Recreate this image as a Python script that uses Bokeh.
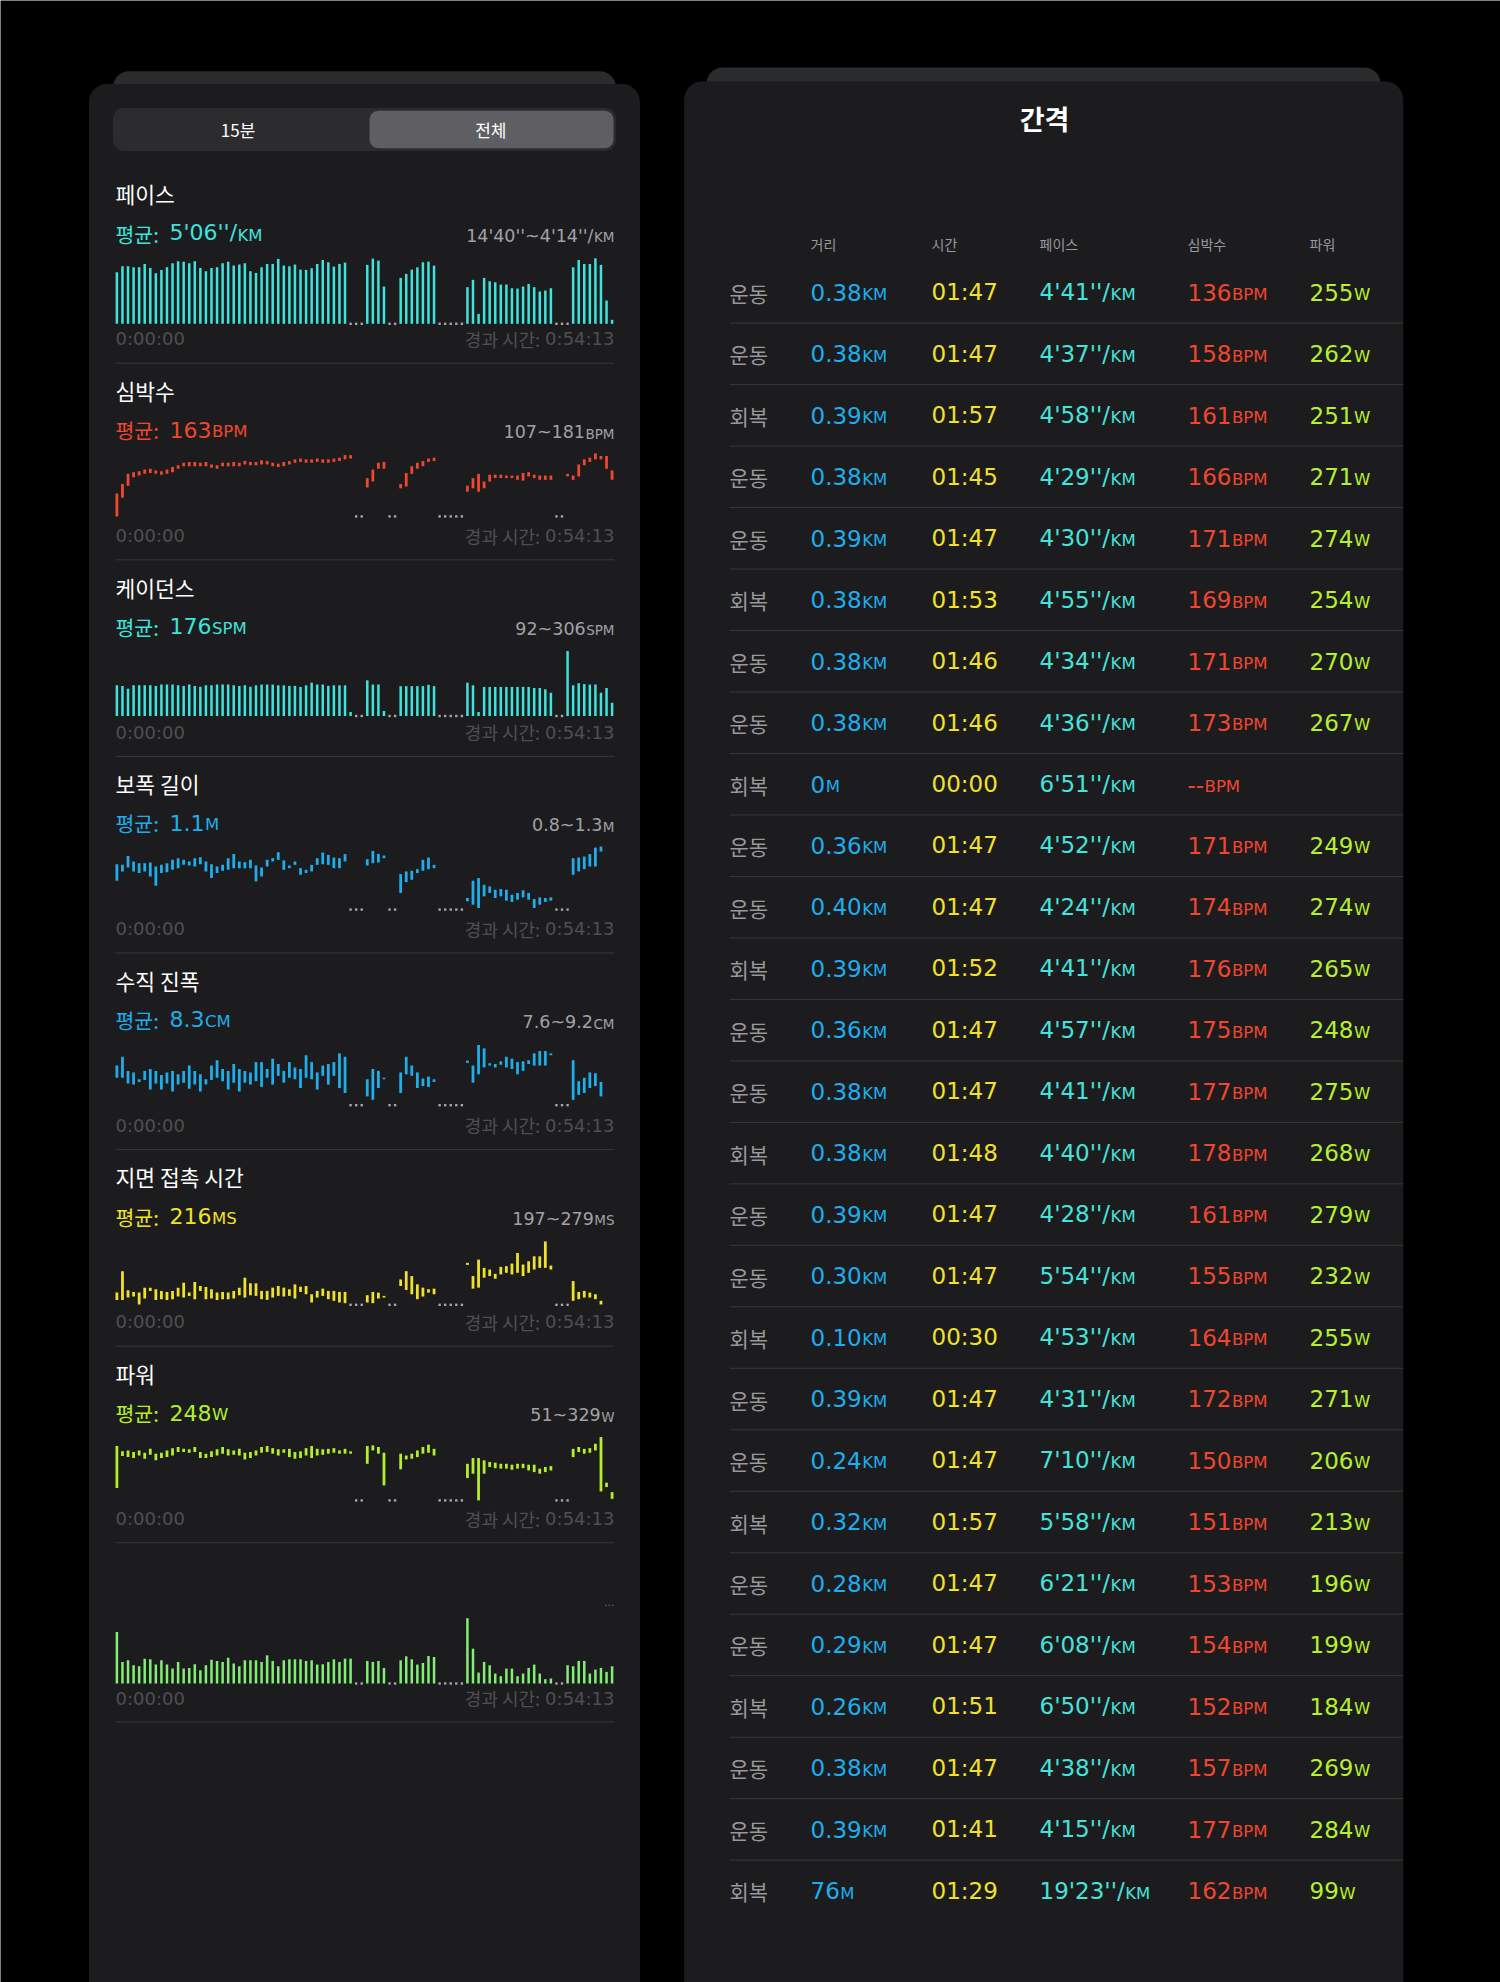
import numpy as np
from bokeh.plotting import figure
from bokeh.models import Range1d, BoxAnnotation, ColumnDataSource
from bokeh.core.properties import value
from bokeh.embed import file_html
from bokeh.resources import INLINE

# ======================= DATA =======================
N_SLOTS = 90
slots = list(range(N_SLOTS))

# pace per slot, seconds per km (range 14'40''=880 .. 4'14''=254)
pace_range_sec = (880, 254)
pace_sec = [387, 330, 330, 340, 340, 308, 346, 397, 365, 340,
            302, 282, 286, 302, 282, 346, 378, 346, 340, 302,
            286, 324, 314, 302, 378, 394, 340, 308, 308, 260,
            324, 330, 314, 362, 365, 349, 308, 270, 292, 333,
            308, 295, None, None, None, 317, 257, 276, 524, None,
            None, 441, 403, 362, 340, 292, 286, 324, None, None,
            None, None, None, 530, 460, 785, 441, 473, 483, 505,
            505, 540, 543, 524, 499, 530, 572, 562, 540, None,
            None, None, 340, 270, 308, 308, 254, 317, 658, 842]
pace_gaps = [42, 43, 44, 49, 50, 58, 59, 60, 61, 62, 79, 80, 81]

hr_range = (107, 181)
hr_low = [107, 129, 143, 153, 155, 157, 158, 157, 156, 157,
          159, 163, 166, 166, 166, 166, 166, 164, 163, 166,
          166, 166, 166, 168, 167, 167, 168, 168, 166, 165,
          166, 168, 170, 171, 170, 170, 171, 170, 170, 171,
          172, 174, 175, None, None, 141, 148, 163, 163, None,
          None, 140, 142, 157, 163, 166, 171, 172, None, None,
          None, None, None, 136, 140, 136, 140, 148, 152, 152,
          152, 152, 150, 149, 154, 152, 150, 150, 150, None,
          None, 154, 150, 154, 167, 171, 174, 174, 163, 150]
hr_high = [134, 145, 157, 159, 160, 162, 163, 161, 160, 162,
           165, 167, 170, 171, 171, 170, 171, 168, 167, 170,
           170, 171, 170, 172, 171, 171, 173, 172, 170, 169,
           171, 172, 174, 175, 174, 174, 175, 174, 174, 175,
           176, 179, 179, None, None, 152, 162, 170, 171, None,
           None, 145, 158, 166, 170, 172, 175, 176, None, None,
           None, None, None, 143, 152, 157, 148, 156, 156, 156,
           155, 155, 155, 158, 159, 156, 155, 155, 155, None,
           None, 157, 155, 168, 174, 176, 181, 178, 178, 161]
hr_gaps = [43, 44, 49, 50, 58, 59, 60, 61, 62, 79, 80]

cadence_range = (60, 306)
cadence_spm = [176, 174, 163, 176, 176, 176, 176, 174, 179, 179,
               179, 176, 174, 179, 174, 171, 176, 176, 179, 179,
               179, 176, 174, 176, 171, 176, 179, 179, 179, 176,
               176, 174, 174, 170, 176, 186, 179, 179, 174, 176,
               176, 176, 75, None, None, 195, 179, 179, 79, None,
               None, 173, 173, 173, 173, 173, 178, 173, None, None,
               None, None, None, 186, 176, 75, 170, 170, 170, 170,
               170, 170, 170, 170, 170, 166, 166, 161, 148, None,
               None, 306, 176, 184, 181, 179, 179, 148, 166, 110]
cadence_gaps = [43, 44, 49, 50, 58, 59, 60, 61, 62, 79, 80]

stride_range = (0.8, 1.3)
stride_low = [1.029, 1.103, 1.134, 1.103, 1.090, 1.103, 1.063, 0.990, 1.090, 1.097,
              1.116, 1.129, 1.155, 1.150, 1.142, 1.160, 1.103, 1.050, 1.090, 1.108,
              1.116, 1.129, 1.129, 1.129, 1.129, 1.024, 1.063, 1.142, 1.182, 1.195,
              1.116, 1.129, 1.155, 1.076, 1.090, 1.103, 1.155, 1.160, 1.155, 1.129,
              1.129, 1.182, None, None, None, 1.150, 1.168, 1.174, 1.208, None,
              None, 0.932, 1.018, 1.037, 1.090, 1.108, 1.121, 1.129, None, None,
              None, None, None, 0.866, 0.839, 0.813, 0.905, 0.932, 0.892, 0.905,
              0.871, 0.861, 0.879, 0.897, 0.879, 0.813, 0.839, 0.861, 0.871, None,
              None, None, 1.076, 1.103, 1.121, 1.142, 1.142, 1.261, None, None]
stride_high = [1.160, 1.155, 1.226, 1.182, 1.168, 1.168, 1.174, 1.142, 1.155, 1.168,
               1.195, 1.208, 1.195, 1.182, 1.208, 1.216, 1.182, 1.160, 1.142, 1.155,
               1.208, 1.242, 1.182, 1.176, 1.195, 1.150, 1.134, 1.195, 1.208, 1.255,
               1.190, 1.150, 1.182, 1.129, 1.116, 1.155, 1.208, 1.253, 1.234, 1.213,
               1.208, 1.240, None, None, None, 1.200, 1.266, 1.242, 1.229, None,
               None, 1.082, 1.103, 1.108, 1.121, 1.195, 1.213, 1.155, None, None,
               None, None, None, 0.892, 1.029, 1.050, 0.997, 0.984, 0.958, 0.963,
               0.958, 0.918, 0.932, 0.953, 0.932, 0.884, 0.897, 0.892, 0.897, None,
               None, None, 1.208, 1.213, 1.221, 1.240, 1.292, 1.300, None, None]
stride_gaps = [42, 43, 44, 49, 50, 58, 59, 60, 61, 62, 79, 80, 81]

vo_range = (7.6, 9.2)
vo_low = [8.32, 8.32, 8.17, 8.14, 8.21, 8.26, 8.01, 8.17, 8.01, 8.17,
          7.96, 8.14, 8.19, 8.03, 8.14, 7.96, 8.14, 8.26, 8.32, 8.23,
          8.01, 8.19, 7.96, 8.19, 8.14, 8.23, 8.08, 8.32, 8.14, 8.37,
          8.19, 8.32, 8.28, 8.05, 8.32, 8.28, 8.01, 8.37, 8.14, 8.37,
          8.05, 7.92, None, None, None, 7.83, 7.74, 8.05, 8.28, None,
          None, 7.92, 8.41, 8.37, 8.05, 8.10, 8.08, 8.21, None, None,
          None, None, None, 8.71, 8.19, 8.41, 8.59, 8.64, 8.59, 8.66,
          8.59, 8.55, 8.41, 8.50, 8.68, 8.64, 8.64, 8.64, 8.91, None,
          None, None, 7.74, 7.87, 7.92, 8.05, 8.10, 7.83, None, None]
vo_high = [8.64, 8.87, 8.50, 8.46, 8.28, 8.50, 8.55, 8.50, 8.39, 8.46,
           8.50, 8.41, 8.50, 8.64, 8.50, 8.41, 8.28, 8.64, 8.78, 8.55,
           8.50, 8.68, 8.55, 8.50, 8.46, 8.73, 8.73, 8.55, 8.82, 8.68,
           8.50, 8.73, 8.59, 8.55, 8.91, 8.73, 8.46, 8.64, 8.68, 8.73,
           8.96, 8.87, None, None, None, 8.28, 8.55, 8.50, 8.32, None,
           None, 8.46, 8.87, 8.64, 8.46, 8.30, 8.35, 8.28, None, None,
           None, None, None, 8.77, 8.64, 9.18, 9.09, 8.70, 8.68, 8.75,
           8.87, 8.82, 8.73, 8.75, 8.78, 8.96, 9.02, 9.02, 8.96, None,
           None, None, 8.78, 8.23, 8.32, 8.46, 8.44, 8.21, None, None]
vo_gaps = [42, 43, 44, 49, 50, 58, 59, 60, 61, 62, 79, 80, 81]

gct_range = (197, 279)
gct_low = [203.3, 203.3, 206.3, 207.6, 197.4, 205.0, 214.8, 203.3, 204.2, 203.3,
           204.2, 207.6, 206.3, 208.4, 204.2, 214.8, 204.2, 205.0, 203.3, 204.2,
           204.2, 205.0, 209.3, 206.3, 209.3, 208.4, 204.2, 203.3, 206.3, 208.4,
           207.6, 208.4, 205.0, 213.5, 210.5, 200.0, 206.3, 208.4, 204.2, 202.1,
           200.0, 199.1, None, None, None, 200.0, 199.1, 205.0, 206.3, None,
           None, 221.1, 216.0, 210.5, 204.2, 207.6, 212.6, 210.5, None, None,
           None, None, None, 248.1, 217.7, 219.0, 231.7, 233.8, 230.4, 235.9,
           238.0, 235.9, 238.0, 233.8, 238.0, 242.2, 244.3, 244.3, 242.2, None,
           None, None, 202.1, 204.2, 206.3, 206.3, 204.2, 197.4, None, None]
gct_high = [212.6, 240.1, 215.6, 213.5, 212.6, 219.0, 219.0, 216.9, 214.8, 213.5,
            214.8, 219.0, 225.3, 212.6, 226.2, 221.1, 219.8, 216.9, 212.6, 213.5,
            212.6, 214.8, 219.0, 231.7, 224.5, 224.5, 214.8, 214.8, 219.0, 221.1,
            219.0, 216.9, 223.2, 220.2, 221.1, 210.5, 214.8, 217.7, 214.8, 214.8,
            213.5, 213.5, None, None, None, 209.3, 213.5, 212.6, 208.4, None,
            None, 229.5, 240.1, 233.8, 223.2, 219.0, 216.9, 217.7, None, None,
            None, None, None, 250.7, 233.8, 254.9, 244.3, 242.2, 236.7, 245.6,
            246.5, 249.8, 263.4, 248.6, 252.8, 259.1, 259.1, 278.2, 247.3, None,
            None, None, 227.4, 213.5, 214.8, 212.6, 210.5, 202.1, None, None]
gct_gaps = [42, 43, 44, 49, 50, 58, 59, 60, 61, 62, 79, 80, 81]

power_range = (51, 329)
power_low = [105, 244, 239, 235, 246, 232, 249, 225, 235, 239,
             246, 261, 261, 258, 261, 235, 235, 239, 246, 254,
             246, 249, 246, 229, 235, 246, 258, 261, 254, 246,
             258, 239, 232, 235, 246, 235, 246, 249, 254, 258,
             254, 254, 254, None, None, 210, 268, 254, 116, None,
             None, 186, 229, 232, 239, 254, 258, 246, None, None,
             None, None, None, 148, 167, 51, 167, 196, 191, 189,
             189, 184, 189, 191, 181, 174, 167, 174, 181, None,
             None, None, 239, 261, 254, 258, 268, 90, 109, 58]
power_high = [287, 264, 268, 261, 268, 258, 275, 254, 258, 268,
              278, 283, 275, 273, 283, 261, 254, 264, 273, 283,
              273, 268, 275, 258, 261, 268, 283, 287, 278, 273,
              273, 275, 261, 264, 278, 287, 275, 273, 275, 278,
              268, 275, 264, None, None, 287, 290, 283, 258, None,
              None, 254, 246, 254, 268, 283, 293, 275, None, None,
              None, None, None, 210, 235, 235, 225, 218, 215, 210,
              210, 206, 210, 210, 206, 206, 189, 196, 200, None,
              None, None, 275, 283, 275, 278, 297, 326, 128, 87]
power_gaps = [43, 44, 49, 50, 58, 59, 60, 61, 62, 79, 80, 81]

extra_range = (0, 200)
extra_vals = [155, 65, 70, 55, 52, 75, 73, 57, 70, 57,
              45, 65, 45, 47, 58, 40, 55, 72, 68, 65,
              78, 60, 52, 70, 70, 70, 65, 85, 68, 52,
              70, 73, 73, 73, 68, 70, 57, 58, 65, 73,
              65, 75, 75, None, None, 68, 65, 68, 47, None,
              None, 70, 82, 73, 57, 62, 83, 80, None, None,
              None, None, None, 197, 105, 33, 65, 55, 30, 22,
              45, 45, 22, 30, 47, 57, 30, 13, 15, None,
              None, 55, 52, 68, 68, 30, 42, 47, 35, 52]
extra_gaps = [43, 44, 49, 50, 58, 59, 60, 61, 62, 79, 80]

section_titles = ["페이스", "심박수", "케이던스", "보폭 길이", "수직 진폭", "지면 접촉 시간", "파워"]
avg_values = ["5'06''/", "163", "176", "1.1", "8.3", "216", "248"]
metric_units = ["KM", "BPM", "SPM", "M", "CM", "MS", "W"]
range_values = ["14'40''~4'14''/", "107~181", "92~306", "0.8~1.3", "7.6~9.2", "197~279", "51~329"]
time_start = "0:00:00"
time_end = "0:54:13"
segment_labels = ["15분", "전체"]

table_title = "간격"
table_headers = ["거리", "시간", "페이스", "심박수", "파워"]
interval_kinds = ["운동", "운동", "회복", "운동", "운동", "회복", "운동", "운동", "회복",
                  "운동", "운동", "회복", "운동", "운동", "회복", "운동", "운동", "회복",
                  "운동", "운동", "회복", "운동", "운동", "회복", "운동", "운동", "회복"]
interval_dist = ["0.38", "0.38", "0.39", "0.38", "0.39", "0.38", "0.38", "0.38", "0",
                 "0.36", "0.40", "0.39", "0.36", "0.38", "0.38", "0.39", "0.30", "0.10",
                 "0.39", "0.24", "0.32", "0.28", "0.29", "0.26", "0.38", "0.39", "76"]
interval_dist_units = ["KM"] * 8 + ["M"] + ["KM"] * 17 + ["M"]
interval_times = ["01:47", "01:47", "01:57", "01:45", "01:47", "01:53", "01:46", "01:46", "00:00",
                  "01:47", "01:47", "01:52", "01:47", "01:47", "01:48", "01:47", "01:47", "00:30",
                  "01:47", "01:47", "01:57", "01:47", "01:47", "01:51", "01:47", "01:41", "01:29"]
interval_paces = ["4'41''", "4'37''", "4'58''", "4'29''", "4'30''", "4'55''", "4'34''", "4'36''", "6'51''",
                  "4'52''", "4'24''", "4'41''", "4'57''", "4'41''", "4'40''", "4'28''", "5'54''", "4'53''",
                  "4'31''", "7'10''", "5'58''", "6'21''", "6'08''", "6'50''", "4'38''", "4'15''", "19'23''"]
interval_hr = ["136", "158", "161", "166", "171", "169", "171", "173", "--",
               "171", "174", "176", "175", "177", "178", "161", "155", "164",
               "172", "150", "151", "153", "154", "152", "157", "177", "162"]
interval_power = ["255", "262", "251", "271", "274", "254", "270", "267", "",
                  "249", "274", "265", "248", "275", "268", "279", "232", "255",
                  "271", "206", "213", "196", "199", "184", "269", "284", "99"]

# ======================= STYLE / LAYOUT =======================
W, H = 1500, 1982
KR = "Noto Sans CJK KR"
NUM = "DejaVu Sans"
BG = "#000000"
PANEL = "#1c1c1e"
STRIP = "#2a2b2d"
SEP = "#38383a"
GRAY = "#98989d"
DIM = "#4f4f53"
C_PACE = "#3ee3dc"
C_HR = "#f0472f"
C_BLUE = "#1faeea"
C_YEL = "#f0e22a"
C_LIME = "#b4ee2c"
C_GREEN = "#82ee74"
metric_colors = [C_PACE, C_HR, C_PACE, C_BLUE, C_BLUE, C_YEL, C_LIME]
BASE_K = 0.38   # renderer places alphabetic baselines ~0.38em low; compensate

DJ = {'.': 0.3179, ':': 0.3369, "'": 0.2749, '/': 0.3369, '-': 0.3608, '~': 0.8379, ' ': 0.3179,
      'K': 0.6558, 'M': 0.8628, 'B': 0.686, 'P': 0.6001, 'S': 0.6348, 'C': 0.6982, 'W': 0.9888}


def tw(s, size):
    return sum(0.6362 if c.isdigit() else DJ.get(c, 0.62) for c in s) * size


p = figure(width=W, height=H, x_range=Range1d(0, W), y_range=Range1d(H, 0),
           x_axis_type=None, y_axis_type=None, output_backend="svg", toolbar_location=None,
           min_border=0, background_fill_color=BG, border_fill_color=BG, outline_line_color=None)
p.xgrid.visible = False
p.ygrid.visible = False


def box(l, r, t, b, color, radius):
    p.add_layout(BoxAnnotation(left=l, right=r, top=t, bottom=b, fill_color=color, fill_alpha=1,
                               line_color=None, border_radius=radius, level="underlay"))


def txt(xs, ys, texts, font, size, color, align="left", baseline="alphabetic", style="normal"):
    if baseline == "alphabetic":
        ys = [y - BASE_K * size for y in ys]
    p.text(x=xs, y=ys, text=texts, text_font=value(font), text_font_size=value(f"{size}px"),
           text_color=color, text_align=align, text_baseline=baseline, text_font_style=style)


# panels
box(112.5, 615.4, 70.8, 300, STRIP, 16)
box(88.5, 639.5, 83.4, 2100, PANEL, 18)
box(706, 1380, 67, 300, STRIP, 16)
box(683.7, 1402.7, 80.9, 2100, PANEL, 18)

# segmented control
box(112.5, 615.4, 107.4, 150.4, "#2c2c2f", 11)
box(369, 613, 110.2, 147.8, "#5f5f63", 9)
txt([237.6, 490.3], [129, 129], segment_labels, KR, 17, "#ffffff", align="center", baseline="middle")

# ---------------- left charts ----------------
LX0, LX1 = 115, 614
SLOT0, SLOT_STEP = 116.4, 5.564
xs_start = -SLOT0 / SLOT_STEP
p.extra_x_ranges = {"slots": Range1d(xs_start, xs_start + W / SLOT_STEP)}

T = [193.3 + i * 196.6 for i in range(7)]


def yrange(v_bottom, y_bottom, v_top, y_top):
    span = (v_top - v_bottom) * H / (y_bottom - y_top)
    start = v_bottom - span * (H - y_bottom) / H
    return Range1d(start, start + span)


def arr(lst):
    return np.array([np.nan if v is None else float(v) for v in lst])


charts = [
    dict(name="pace", kind="bar", vals=pace_sec, gaps=pace_gaps, vb=pace_range_sec[0], vt=pace_range_sec[1],
         yb=T[0] + 130, yt=T[0] + 64.5, color=C_PACE),
    dict(name="hr", kind="span", lo=hr_low, hi=hr_high, gaps=hr_gaps, vb=hr_range[0], vt=hr_range[1],
         yb=T[1] + 126, yt=T[1] + 63, color=C_HR),
    dict(name="cad", kind="bar", vals=cadence_spm, gaps=cadence_gaps, vb=cadence_range[0], vt=cadence_range[1],
         yb=T[2] + 129, yt=T[2] + 64, color=C_PACE),
    dict(name="stride", kind="span", lo=stride_low, hi=stride_high, gaps=stride_gaps, vb=stride_range[0],
         vt=stride_range[1], yb=T[3] + 126, yt=T[3] + 63, color=C_BLUE),
    dict(name="vo", kind="span", lo=vo_low, hi=vo_high, gaps=vo_gaps, vb=vo_range[0], vt=vo_range[1],
         yb=T[4] + 125, yt=T[4] + 64, color=C_BLUE),
    dict(name="gct", kind="span", lo=gct_low, hi=gct_high, gaps=gct_gaps, vb=gct_range[0], vt=gct_range[1],
         yb=T[5] + 128, yt=T[5] + 64, color=C_YEL),
    dict(name="power", kind="span", lo=power_low, hi=power_high, gaps=power_gaps, vb=power_range[0],
         vt=power_range[1], yb=T[6] + 127, yt=T[6] + 63, color=C_LIME),
    dict(name="extra", kind="bar", vals=extra_vals, gaps=extra_gaps, vb=extra_range[0], vt=extra_range[1],
         yb=1683, yt=1616.7, color=C_GREEN),
]

yr = {}
for c in charts:
    yr[c["name"]] = yrange(c["vb"], c["yb"], c["vt"], c["yt"])
p.extra_y_ranges = yr

for c in charts:
    if c["kind"] == "bar":
        v = arr(c["vals"])
        src = ColumnDataSource(dict(x=slots, top=v, bottom=[c["vb"]] * N_SLOTS))
        p.vbar(x="x", top="top", bottom="bottom", width=0.45, source=src, fill_color=c["color"],
               line_color=None, x_range_name="slots", y_range_name=c["name"])
    else:
        src = ColumnDataSource(dict(x=slots, top=arr(c["hi"]), bottom=arr(c["lo"])))
        p.vbar(x="x", top="top", bottom="bottom", width=0.5, source=src, fill_color=c["color"],
               line_color=None, x_range_name="slots", y_range_name=c["name"])
    p.scatter(x=c["gaps"], y=[c["vb"]] * len(c["gaps"]), marker="square", size=2.4,
              fill_color="#a5a5aa", line_color=None, x_range_name="slots", y_range_name=c["name"])

# section texts
AVG_NS, AVG_US = 22, 16.5
for i in range(7):
    t = T[i]
    col = metric_colors[i]
    txt([LX0], [t], [section_titles[i]], KR, 21.5, "#ffffff", baseline="middle")
    yb = t + 47.5
    txt([LX0], [yb], ["평균:"], KR, 20.5, col)
    txt([169], [yb], [avg_values[i]], NUM, AVG_NS, col)
    txt([169 + tw(avg_values[i], AVG_NS) + 0.5], [yb], [metric_units[i]], NUM, AVG_US, col)
    txt([LX1], [yb + 1], [metric_units[i]], NUM, 13.5, "#a1a1a6", align="right")
    txt([LX1 - tw(metric_units[i], 13.5) - 0.5], [yb + 1], [range_values[i]], NUM, 17.5, "#a1a1a6", align="right")

time_label_y = [t + 152 for t in T] + [1704.5]
txt([LX0] * 8, time_label_y, [time_start] * 8, NUM, 18, DIM)
txt([LX1] * 8, time_label_y, [time_end] * 8, NUM, 18, DIM, align="right")
txt([LX1 - tw(time_end, 18) - 5] * 8, time_label_y, ["경과 시간:"] * 8, KR, 18, DIM, align="right")
txt([LX1], [1601], ["..."], NUM, 11, "#6e6e73", align="right", baseline="middle")

sep_y = [t + 169.4 for t in T] + [1721.5]
p.segment(x0=[LX0] * 8, x1=[LX1] * 8, y0=sep_y, y1=sep_y, line_color=SEP, line_width=1)

# ---------------- right table ----------------
txt([1044], [117.5], [table_title], KR, 27, "#ffffff", align="center", baseline="middle", style="bold")
COLX = [810, 931, 1039, 1187, 1309]
txt(COLX, [249] * 5, table_headers, KR, 14, GRAY)

ROW0, ROW_STEP = 291.9, 61.48
n = len(interval_kinds)
rows_y = [ROW0 + r * ROW_STEP for r in range(n)]
base = [y + 8.5 for y in rows_y]
NS, US = 23, 16.5
C_TDIST, C_TTIME, C_TPACE, C_THR, C_TPOW = "#1eaeee", "#f2e12c", "#46e2dc", "#f0462f", "#b6f02e"

txt([729] * n, base, interval_kinds, KR, 21, GRAY)
txt([COLX[0]] * n, base, interval_dist, NUM, NS, C_TDIST)
txt([COLX[0] + tw(s, NS) + 0.5 for s in interval_dist], base, interval_dist_units, NUM, US, C_TDIST)
txt([COLX[1]] * n, base, interval_times, NUM, NS, C_TTIME)
pace_txt = [s + "/" for s in interval_paces]
txt([COLX[2]] * n, base, pace_txt, NUM, NS, C_TPACE)
txt([COLX[2] + tw(s, NS) + 0.5 for s in pace_txt], base, ["KM"] * n, NUM, US, C_TPACE)
txt([COLX[3]] * n, base, interval_hr, NUM, NS, C_THR)
txt([COLX[3] + tw(s, NS) + 0.5 for s in interval_hr], base, ["BPM"] * n, NUM, US, C_THR)
pw_idx = [i for i in range(n) if interval_power[i]]
txt([COLX[4]] * len(pw_idx), [base[i] for i in pw_idx], [interval_power[i] for i in pw_idx], NUM, NS, C_TPOW)
txt([COLX[4] + tw(interval_power[i], NS) + 0.5 for i in pw_idx], [base[i] for i in pw_idx],
    ["W"] * len(pw_idx), NUM, US, C_TPOW)

row_sep = [y + ROW_STEP / 2 for y in rows_y[:-1]]
p.segment(x0=[729] * len(row_sep), x1=[1402.7] * len(row_sep), y0=row_sep, y1=row_sep,
          line_color=SEP, line_width=1)

open("out.html", "w").write(file_html(p, INLINE))
